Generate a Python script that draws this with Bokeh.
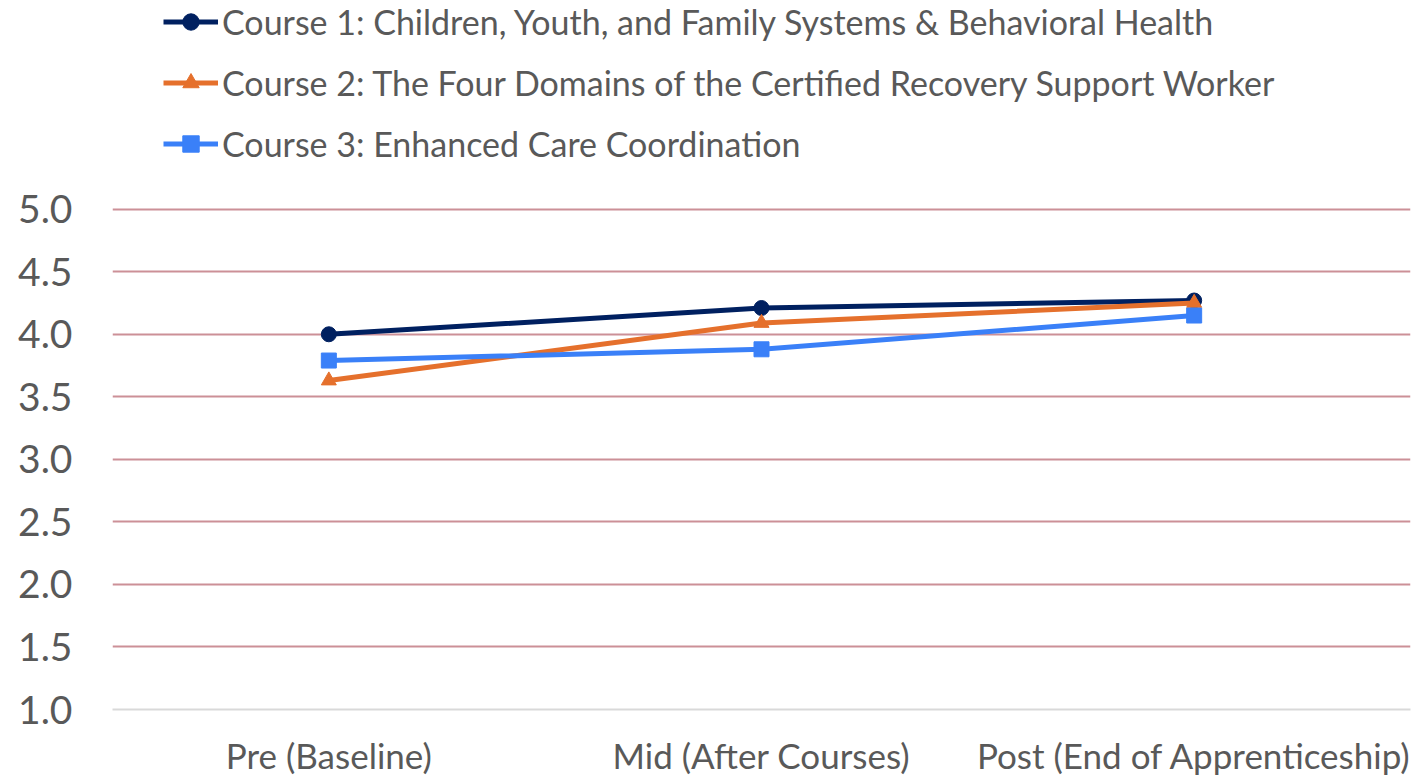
from bokeh.plotting import figure
from bokeh.models import (FactorRange, Range1d, FixedTicker, Legend, LegendItem,
                          CustomJSTickFormatter)
from bokeh.embed import file_html
from bokeh.resources import INLINE

stages = ["Pre (Baseline)", "Mid (After Courses)", "Post (End of Apprenticeship)"]
course1 = [4.00, 4.21, 4.27]
course2 = [3.63, 4.09, 4.25]
course3 = [3.79, 3.88, 4.15]
names = [
    "Course 1: Children, Youth, and Family Systems & Behavioral Health",
    "Course 2: The Four Domains of the Certified Recovery Support Worker",
    "Course 3: Enhanced Care Coordination",
]
y_ticks = [1.0, 1.5, 2.0, 2.5, 3.0, 3.5, 4.0, 4.5, 5.0]

FONT = "Lato"
TXT = "#595959"

p = figure(
    width=1417, height=778,
    x_range=FactorRange(*stages, range_padding=0),
    y_range=Range1d(1.0, 5.0 + 209 / 125.25),
    output_backend="svg", toolbar_location=None,
    min_border_left=112, min_border_right=7, min_border_top=0, min_border_bottom=68,
)
p.outline_line_color = None
p.background_fill_color = "white"
p.xgrid.grid_line_color = None
p.ygrid.grid_line_color = "#CC9097"
p.ygrid.grid_line_width = 2
p.ygrid.ticker = FixedTicker(ticks=y_ticks[1:])

p.yaxis.ticker = FixedTicker(ticks=y_ticks)
p.yaxis.axis_line_color = None
p.yaxis.major_tick_line_color = None
p.yaxis.minor_tick_line_color = None
p.yaxis.major_tick_out = 0
p.yaxis.major_tick_in = 0
p.yaxis.major_label_standoff = 40
p.yaxis.major_label_text_font = FONT
p.yaxis.major_label_text_font_size = "39px"
p.yaxis.major_label_text_color = TXT
p.yaxis.formatter = CustomJSTickFormatter(code="return tick.toFixed(1);")

p.xaxis.axis_line_color = "#D9D9D9"
p.xaxis.axis_line_width = 2
p.xaxis.major_tick_line_color = None
p.xaxis.minor_tick_line_color = None
p.xaxis.major_tick_out = 0
p.xaxis.major_tick_in = 0
p.xaxis.major_label_standoff = 24
p.xaxis.major_label_text_font = FONT
p.xaxis.major_label_text_font_size = "35px"
p.xaxis.major_label_text_color = TXT

series = [course1, course2, course3]
colors = ["#002060", "#E5702C", "#3A80F8"]
markers = ["circle", "triangle", "square"]
sizes = [15, 15, 15]
items = []
for vals, col, mk, sz, nm in zip(series, colors, markers, sizes, names):
    l = p.line(stages, vals, line_color=col, line_width=5)
    s = p.scatter(stages, vals, marker=mk, size=sz, fill_color=col, line_color=col)
    items.append(LegendItem(label=nm, renderers=[l, s]))

legend = Legend(items=items, location=(51, 545))
legend.border_line_color = None
legend.background_fill_alpha = 0
legend.padding = 0
legend.margin = 0
legend.spacing = 20
legend.glyph_width = 55
legend.glyph_height = 41
legend.label_height = 41
legend.label_standoff = 4
legend.label_text_font = FONT
legend.label_text_font_size = "34px"
legend.label_text_color = TXT
p.add_layout(legend)

open("out.html", "w").write(file_html(p, INLINE))
